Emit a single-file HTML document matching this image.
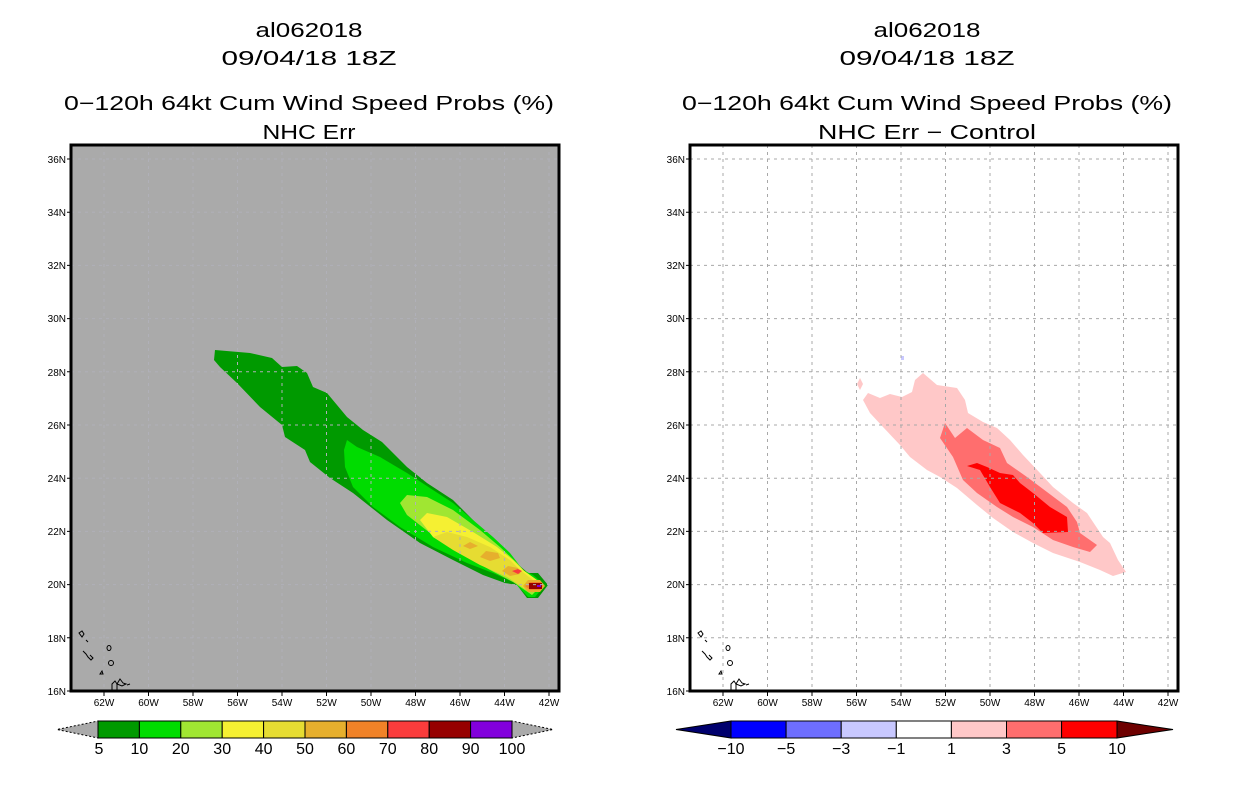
<!DOCTYPE html>
<html><head><meta charset="utf-8"><style>
html,body{margin:0;padding:0;background:#fff;}
svg{display:block;}
text{font-family:"Liberation Sans",sans-serif;fill:#000;}
</style></head><body>
<svg width="1236" height="800" viewBox="0 0 1236 800" xmlns="http://www.w3.org/2000/svg">
<defs>
<g id="isl" fill="none" stroke="#000" stroke-width="1">
<path d="M79,633 l3,-2 l2,3 l-2,3 z"/><path d="M86,640 l2,2"/>
<path d="M83,651 l3,3 l2,3 l3,3 l2,-2 l-3,-3"/>
<ellipse cx="109" cy="648" rx="2" ry="2.5"/><ellipse cx="111" cy="663" rx="2.5" ry="2.5"/>
<path d="M100,674 l2,-3 l1,3 z"/>
<path d="M112,691 v-7 l3,-3 l2,3 v7 M117,684 l3,-5 l3,4 l3,1 l-4,2 z M127,685 l3,-1"/>
</g>
</defs>

<g font-size="20" text-anchor="middle" lengthAdjust="spacingAndGlyphs">
<text x="309" y="37" textLength="107" lengthAdjust="spacingAndGlyphs">al062018</text>
<text x="309" y="65" textLength="175" lengthAdjust="spacingAndGlyphs">09/04/18 18Z</text>
<text x="309" y="110" textLength="490" lengthAdjust="spacingAndGlyphs">0−120h 64kt Cum Wind Speed Probs (%)</text>
<text x="309" y="139" textLength="93" lengthAdjust="spacingAndGlyphs">NHC Err</text>
<text x="927" y="37" textLength="107" lengthAdjust="spacingAndGlyphs">al062018</text>
<text x="927" y="65" textLength="175" lengthAdjust="spacingAndGlyphs">09/04/18 18Z</text>
<text x="927" y="110" textLength="490" lengthAdjust="spacingAndGlyphs">0−120h 64kt Cum Wind Speed Probs (%)</text>
<text x="927" y="139" textLength="218" lengthAdjust="spacingAndGlyphs">NHC Err − Control</text>
</g>

<rect x="71" y="145" width="488" height="546" fill="#aaaaaa"/>
<polygon fill="#009a00" points="215,350 250,353 272,358 282,367 297,366 307,373 313,387 327,393 347,417 363,430 382,442 407,467 427,483 453,500 463,510 483,530 503,547 513,560 528,573 538,573 548,585 538,598 527,598 517,585 505,583 483,575 453,560 420,543 387,520 353,493 330,478 310,462 305,450 285,437 282,425 260,407 237,383 220,367 214,360"/>
<polygon fill="#00dc00" points="347,440 357,447 380,457 407,473 433,490 453,503 473,520 493,537 510,553 523,570 533,575 545,585 535,597 528,597 515,583 493,573 467,563 433,547 400,527 373,507 353,487 345,467 344,450"/>
<polygon fill="#a0e632" points="400,503 407,495 427,497 453,510 480,530 500,547 517,563 530,577 542,585 532,595 513,582 490,570 460,553 430,533 407,515"/>
<polygon fill="#f5f032" points="420,520 427,513 447,517 473,532 497,547 513,560 523,570 537,580 542,586 530,592 513,578 490,568 460,553 433,537"/>
<polygon fill="#e6dc32" points="433,537 447,532 467,537 490,547 510,560 520,570 533,580 538,586 528,591 507,577 480,565 453,550"/>
<g fill="#e6af2d">
<polygon points="463,546 470,542 478,546 470,549"/>
<polygon points="480,557 486,551 498,553 500,558 490,561"/>
<polygon points="502,571 508,566 518,568 520,574 510,576"/>
<polygon points="523,586 528,580 540,580 545,586 540,592 528,592"/>
</g>
<polygon fill="#f08228" points="525,586 530,582 541,582 543,586 540,590 530,590"/>
<polygon fill="#fa3c3c" points="512,571 518,569 522,571 518,574"/>
<rect x="529" y="583" width="13" height="6" fill="#960000"/>
<rect x="537" y="585" width="4" height="2" fill="#8200dc"/>

<g stroke="#b0b0b8" stroke-width="1" stroke-dasharray="3,4" fill="none">
<path d="M104,145V691M148.5,145V691M193,145V691M237.5,145V691M282,145V691M326.5,145V691M371,145V691M415.5,145V691M460,145V691M504.5,145V691M549,145V691"/>
<path d="M71,159H559M71,212.2H559M71,265.4H559M71,318.6H559M71,371.8H559M71,425H559M71,478.2H559M71,531.4H559M71,584.6H559M71,637.8H559"/>
</g>
<use href="#isl"/>
<rect x="71" y="145" width="488" height="546" fill="none" stroke="#000" stroke-width="3"/>

<g stroke="#000" stroke-width="1">
<path d="M67,159H71M67,212.2H71M67,265.4H71M67,318.6H71M67,371.8H71M67,425H71M67,478.2H71M67,531.4H71M67,584.6H71M67,637.8H71M67,691H71"/>
<path d="M104,691V696M148.5,691V696M193,691V696M237.5,691V696M282,691V696M326.5,691V696M371,691V696M415.5,691V696M460,691V696M504.5,691V696M549,691V696"/>
</g>
<g font-size="10" text-anchor="end">
<text x="66" y="163">36N</text><text x="66" y="216">34N</text><text x="66" y="269">32N</text><text x="66" y="322">30N</text><text x="66" y="376">28N</text><text x="66" y="429">26N</text><text x="66" y="482">24N</text><text x="66" y="535">22N</text><text x="66" y="588">20N</text><text x="66" y="642">18N</text><text x="66" y="695">16N</text>
</g>
<g font-size="10" text-anchor="middle">
<text x="104" y="706">62W</text><text x="148.5" y="706">60W</text><text x="193" y="706">58W</text><text x="237.5" y="706">56W</text><text x="282" y="706">54W</text><text x="326.5" y="706">52W</text><text x="371" y="706">50W</text><text x="415.5" y="706">48W</text><text x="460" y="706">46W</text><text x="504.5" y="706">44W</text><text x="549" y="706">42W</text>
</g>

<g stroke="#000" stroke-width="1">
<polygon points="98,721 98,738 57,729.5" fill="#aaaaaa" stroke-dasharray="2,2"/>
<polygon points="512,721 512,738 553,729.5" fill="#aaaaaa" stroke-dasharray="2,2"/>
<rect x="98" y="721" width="41.4" height="17" fill="#009a00"/>
<rect x="139.4" y="721" width="41.4" height="17" fill="#00dc00"/>
<rect x="180.8" y="721" width="41.4" height="17" fill="#a0e632"/>
<rect x="222.2" y="721" width="41.4" height="17" fill="#f5f032"/>
<rect x="263.6" y="721" width="41.4" height="17" fill="#e6dc32"/>
<rect x="305" y="721" width="41.4" height="17" fill="#e6af2d"/>
<rect x="346.4" y="721" width="41.4" height="17" fill="#f08228"/>
<rect x="387.8" y="721" width="41.4" height="17" fill="#fa3c3c"/>
<rect x="429.2" y="721" width="41.4" height="17" fill="#960000"/>
<rect x="470.6" y="721" width="41.4" height="17" fill="#8200dc"/>
</g>
<g font-size="16" text-anchor="middle">
<text x="99" y="754">5</text><text x="139.4" y="754">10</text><text x="180.8" y="754">20</text><text x="222.2" y="754">30</text><text x="263.6" y="754">40</text><text x="305" y="754">50</text><text x="346.4" y="754">60</text><text x="387.8" y="754">70</text><text x="429.2" y="754">80</text><text x="470.6" y="754">90</text><text x="512" y="754">100</text>
</g>

<g transform="translate(619,0)">
<polygon fill="#ffc8c8" points="244,400 249,393 261,398 271,394 283,397 293,392 296,380 304,373 318,385 338,388 346,400 349,413 364,422 378,428 391,440 404,455 421,473 434,487 454,503 468,513 484,537 491,543 499,560 507,572 494,576 481,570 461,562 434,553 414,543 394,532 374,518 358,505 338,488 321,477 308,470 291,457 281,445 264,427 251,413"/>
<polygon fill="#ffc8c8" points="238,384 241,378 244,384 241,390"/>
<polygon fill="#ff6e6e" points="321,438 326,423 336,438 348,428 364,440 381,448 388,463 408,477 428,492 448,507 458,522 461,533 478,545 471,552 454,547 434,540 414,527 394,517 378,507 358,493 344,480 334,457"/>
<polygon fill="#ff0000" points="348,466 358,463 368,467 381,473 394,475 401,483 414,493 431,507 448,517 449,532 424,533 414,523 401,513 381,503 371,487 361,470"/>
<rect x="282" y="356" width="3" height="4" fill="#c8c8ff"/>
<g stroke="#a8a8a8" stroke-width="1" stroke-dasharray="3,4" fill="none">
<path d="M104,145V691M148.5,145V691M193,145V691M237.5,145V691M282,145V691M326.5,145V691M371,145V691M415.5,145V691M460,145V691M504.5,145V691M549,145V691"/>
<path d="M71,159H559M71,212.2H559M71,265.4H559M71,318.6H559M71,371.8H559M71,425H559M71,478.2H559M71,531.4H559M71,584.6H559M71,637.8H559"/>
</g>
<use href="#isl"/>
<rect x="71" y="145" width="488" height="546" fill="none" stroke="#000" stroke-width="3"/>
<g stroke="#000" stroke-width="1">
<path d="M67,159H71M67,212.2H71M67,265.4H71M67,318.6H71M67,371.8H71M67,425H71M67,478.2H71M67,531.4H71M67,584.6H71M67,637.8H71M67,691H71"/>
<path d="M104,691V696M148.5,691V696M193,691V696M237.5,691V696M282,691V696M326.5,691V696M371,691V696M415.5,691V696M460,691V696M504.5,691V696M549,691V696"/>
</g>
<g font-size="10" text-anchor="end">
<text x="66" y="163">36N</text><text x="66" y="216">34N</text><text x="66" y="269">32N</text><text x="66" y="322">30N</text><text x="66" y="376">28N</text><text x="66" y="429">26N</text><text x="66" y="482">24N</text><text x="66" y="535">22N</text><text x="66" y="588">20N</text><text x="66" y="642">18N</text><text x="66" y="695">16N</text>
</g>
<g font-size="10" text-anchor="middle">
<text x="104" y="706">62W</text><text x="148.5" y="706">60W</text><text x="193" y="706">58W</text><text x="237.5" y="706">56W</text><text x="282" y="706">54W</text><text x="326.5" y="706">52W</text><text x="371" y="706">50W</text><text x="415.5" y="706">48W</text><text x="460" y="706">46W</text><text x="504.5" y="706">44W</text><text x="549" y="706">42W</text>
</g>
</g>

<g stroke="#000" stroke-width="1">
<polygon points="731,721 731,738 676,729.5" fill="#00006e"/>
<polygon points="1117,721 1117,738 1173,729.5" fill="#6e0000"/>
<rect x="731" y="721" width="55.1" height="17" fill="#0000ff"/>
<rect x="786.1" y="721" width="55.1" height="17" fill="#6e6eff"/>
<rect x="841.2" y="721" width="55.1" height="17" fill="#c8c8ff"/>
<rect x="896.3" y="721" width="55.1" height="17" fill="#ffffff"/>
<rect x="951.4" y="721" width="55.1" height="17" fill="#ffc8c8"/>
<rect x="1006.5" y="721" width="55.1" height="17" fill="#ff6e6e"/>
<rect x="1061.6" y="721" width="55.4" height="17" fill="#ff0000"/>
</g>
<g font-size="16" text-anchor="middle">
<text x="731" y="754">−10</text><text x="786.1" y="754">−5</text><text x="841.2" y="754">−3</text><text x="896.3" y="754">−1</text><text x="951.4" y="754">1</text><text x="1006.5" y="754">3</text><text x="1061.6" y="754">5</text><text x="1117" y="754">10</text>
</g>
</svg>
</body></html>
